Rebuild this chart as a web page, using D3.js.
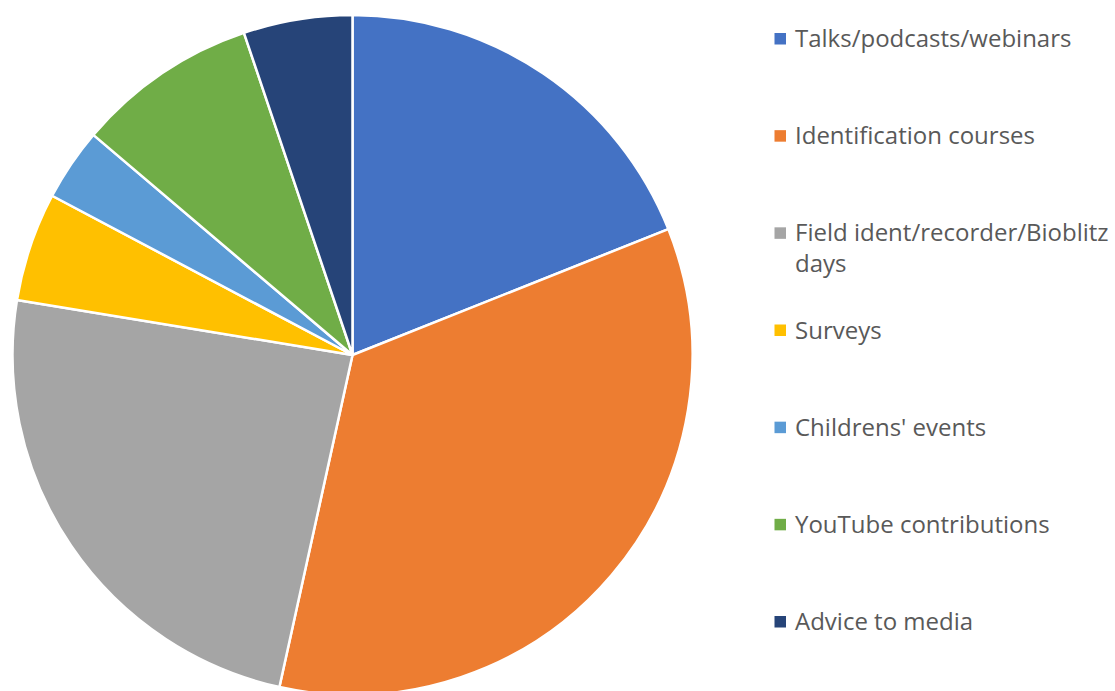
<!DOCTYPE html>
<html>
<head>
<meta charset="utf-8">
<script src="https://cdn.jsdelivr.net/npm/d3@7"></script>
<style>
  html, body { margin: 0; padding: 0; background: #fff; }
  svg { display: block; }
</style>
</head>
<body>
<div id="chart"></div>
<script>

// Categories, values and colours
var categories = ['Talks/podcasts/webinars', 'Identification courses', 'Field ident/recorder/Bioblitz days',
                  'Surveys', "Childrens' events", 'YouTube contributions', 'Advice to media'];
var values = [11, 20, 14, 3, 2, 5, 3];
var colors = ['#4472C4', '#ED7D31', '#A5A5A5', '#FFC000', '#5B9BD5', '#70AD47', '#264478'];

var createChart = () => {

  var width = 1115,
      height = 691;

  var cx = 352.5, cy = 355, radius = 340;

  var svg = d3.select('#chart')
    .append('svg')
    .attr('width', width)
    .attr('height', height);

  var rows = categories.map((c, i) => ({ name: c, value: values[i], color: colors[i] }));

  // pie starts at 12 o'clock and goes clockwise, in data order
  var pie = d3.pie()
    .sort(null)
    .value(d => d.value);

  var arc = d3.arc()
    .innerRadius(0)
    .outerRadius(radius);

  svg.append('g')
      .attr('transform', 'translate(' + cx + ',' + cy + ')')
    .selectAll('path')
    .data(pie(rows))
    .enter()
    .append('path')
      .attr('d', arc)
      .style('fill', d => d.data.color)
      .style('stroke', '#fff')
      .style('stroke-width', 2.5)
      .style('stroke-linejoin', 'round');

  // legend
  var y = d3.scalePoint()
    .domain(categories)
    .range([47, 630]);

  var fontSize = 24,
      textX = 795,
      maxWidth = 1115 - textX,
      lineHeight = 31;

  var legend = svg.append('g')
    .selectAll('g')
    .data(rows)
    .enter()
    .append('g')
      .attr('transform', d => 'translate(0,' + y(d.name) + ')');

  legend.append('rect')
      .attr('x', 774.5)
      .attr('y', -14)
      .attr('width', 11.5)
      .attr('height', 11.5)
      .style('fill', d => d.color);

  legend.append('text')
      .attr('x', textX)
      .attr('y', 0)
      .style('font-family', '"Open Sans", sans-serif')
      .style('font-size', fontSize + 'px')
      .style('fill', '#595959')
      .each(function(d) {
        var text = d3.select(this),
            words = d.name.split(' '),
            line = [],
            lineNo = 0,
            tspan = text.append('tspan').attr('x', textX).attr('y', 0);
        words.forEach(w => {
          line.push(w);
          tspan.text(line.join(' '));
          if (tspan.node().getComputedTextLength() > maxWidth && line.length > 1) {
            line.pop();
            tspan.text(line.join(' '));
            line = [w];
            lineNo++;
            tspan = text.append('tspan').attr('x', textX).attr('y', lineNo * lineHeight).text(w);
          }
        });
      });
}

createChart();
</script>
</body>
</html>
